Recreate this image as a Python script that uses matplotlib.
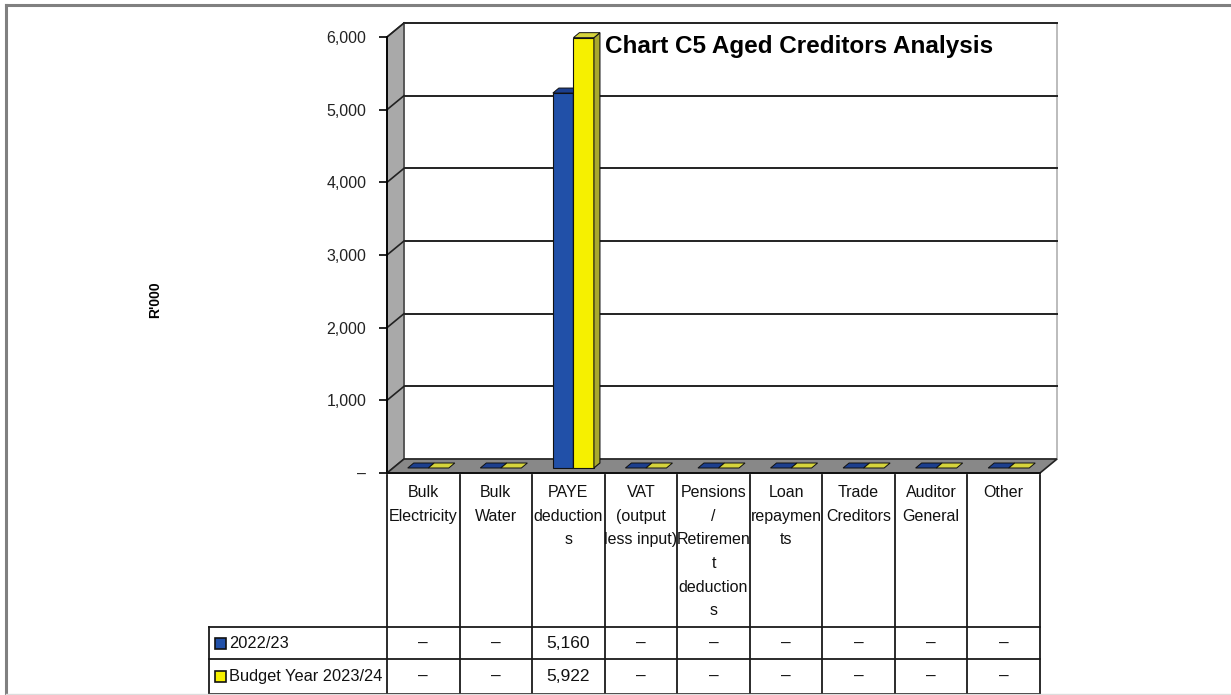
import numpy as np
import matplotlib.pyplot as plt
from matplotlib.patches import Polygon, Rectangle
from matplotlib.lines import Line2D

# data
categories = ['Bulk\nElectricity', 'Bulk\nWater', 'PAYE\ndeduction\ns', 'VAT\n(output\nless input)',
              'Pensions\n/\nRetiremen\nt\ndeduction\ns', 'Loan\nrepaymen\nts', 'Trade\nCreditors',
              'Auditor\nGeneral', 'Other']
series_names = ['2022/23', 'Budget Year 2023/24']
prev_year = [0, 0, 5160, 0, 0, 0, 0, 0, 0]
budget_year = [0, 0, 5922, 0, 0, 0, 0, 0, 0]
yticks = [0, 1000, 2000, 3000, 4000, 5000, 6000]

W, H = 1231, 695
plt.rcParams['font.family'] = ['Liberation Sans', 'DejaVu Sans']

fig = plt.figure(figsize=(W / 100, H / 100), dpi=100)

# outer frame
fig.add_artist(Line2D([6 / W, 6 / W], [0, 1 - 5 / H], color='#808080', lw=2.2))
fig.add_artist(Line2D([6 / W, 1], [1 - 5 / H, 1 - 5 / H], color='#808080', lw=2.2))
fig.add_artist(Line2D([6 / W, 1], [1 / H, 1 / H], color='#dddddd', lw=1))

# front plane of the 3D plot
x_l, x_r, y_0, y_top = 387, 1040, 473, 37
ax = fig.add_axes([x_l / W, 1 - y_0 / H, (x_r - x_l) / W, (y_0 - y_top) / H])
n = len(categories)
ax.set_xlim(-0.5, n - 0.5)
ax.set_ylim(0, 6000)
ux = n / (x_r - x_l)          # data units per pixel
uy = 6000 / (y_0 - y_top)
DX, DY = 17 * ux, 14 * uy      # depth of the chart box

ax.set_facecolor('none')
for s in ['top', 'right']:
    ax.spines[s].set_visible(False)
ax.spines['left'].set_linewidth(1.3)
ax.spines['bottom'].set_visible(False)
ax.set_xticks([])
ax.set_yticks(yticks)
ax.set_yticklabels(['–' if v == 0 else f'{v:,}' for v in yticks])
ax.tick_params(axis='y', length=6, width=1.2, pad=9, labelsize=11.5, labelcolor='#222222')

# back wall, left wall and floor
x0, x1 = -0.5, n - 0.5
ax.add_patch(Polygon([(x0 + DX, DY), (x1 + DX, DY), (x1 + DX, 6000 + DY), (x0 + DX, 6000 + DY)],
                     closed=True, facecolor='white', edgecolor='#b0b0b0', lw=1.2, clip_on=False, zorder=1))
ax.add_patch(Polygon([(x0, 0), (x0 + DX, DY), (x0 + DX, 6000 + DY), (x0, 6000)],
                     closed=True, facecolor='#a9a9a9', edgecolor='#333333', lw=1, clip_on=False, zorder=2))
for v in yticks[1:]:
    ax.plot([x0 + DX, x1 + DX], [v + DY, v + DY], color='#222222', lw=1.4, clip_on=False, zorder=1.5)
    ax.plot([x0, x0 + DX], [v, v + DY], color='#222222', lw=1.2, clip_on=False, zorder=2.5)
ax.add_patch(Polygon([(x0, 0), (x1, 0), (x1 + DX, DY), (x0 + DX, DY)],
                     closed=True, facecolor='#888888', edgecolor='#222222', lw=1.2, clip_on=False, zorder=3))

# bars with side and top faces
bw = 0.283
fx, fy = 5 * ux, 5 * uy       # bar front offset into the box
bx, by = 6 * ux, 5 * uy       # bar depth
colors = [('#2150a8', '#17347a', '#1c3f8e'), ('#f6f000', '#a9a92e', '#d6d43c')]
xs = np.arange(n)
for k, vals in enumerate([prev_year, budget_year]):
    front, side, top = colors[k]
    for i, v in enumerate(vals):
        a = xs[i] - bw + k * bw + fx
        b = a + bw
        if v > 0:
            ax.add_patch(Rectangle((a, fy), bw, v, facecolor=front, edgecolor='#111111', lw=0.8,
                                   clip_on=False, zorder=4 + k))
            ax.add_patch(Polygon([(b, fy), (b + bx, fy + by), (b + bx, v + fy + by), (b, v + fy)],
                                 closed=True, facecolor=side, edgecolor='#111111', lw=0.8,
                                 clip_on=False, zorder=4 + k))
        ax.add_patch(Polygon([(a, v + fy), (b, v + fy), (b + bx, v + fy + by), (a + bx, v + fy + by)],
                             closed=True, facecolor=top, edgecolor='#111111', lw=0.7,
                             clip_on=False, zorder=4 + k))
ax.plot([x0, x1], [0, 0], color='#111111', lw=1.4, clip_on=False, zorder=3.5)

# data table below the chart
t_l, t_b = 209, 694
tab = fig.add_axes([t_l / W, 1 - t_b / H, (x_r - t_l) / W, (t_b - y_0) / H])
tab.set_xlim(x0 - (x_l - t_l) * ux, x1)
tab.set_ylim(t_b - y_0, 0)
tab.axis('off')
rows = [0, 154, 186, 221]
lc = '#1a1a1a'
for i in range(n + 1):
    tab.plot([x0 + i, x0 + i], [rows[0] + 2, rows[3]], color=lc, lw=1.3, clip_on=False)
tab.plot([tab.get_xlim()[0]] * 2, [rows[1], rows[3]], color=lc, lw=1.3, clip_on=False)
for r in rows[1:]:
    tab.plot([tab.get_xlim()[0], x1], [r, r], color=lc, lw=1.3, clip_on=False)

for i, c in enumerate(categories):
    tab.text(xs[i], 12, c, ha='center', va='top', fontsize=11.5, linespacing=1.72, color='#111111')
for k, vals in enumerate([prev_year, budget_year]):
    yc = (rows[k + 1] + rows[k + 2]) / 2
    for i, v in enumerate(vals):
        tab.text(xs[i], yc, '–' if v == 0 else f'{v:,}', ha='center', va='center',
                 fontsize=12.5, color='#111111')
    kx = tab.get_xlim()[0] + 6 * ux
    tab.add_patch(Rectangle((kx, yc - 5.5), 11 * ux, 11, facecolor=colors[k][0], edgecolor='#111111',
                            lw=1.2, clip_on=False))
    tab.text(kx + 14 * ux, yc, series_names[k], ha='left', va='center', fontsize=11.8, color='#111111')

# titles
fig.text(155 / W, 1 - 300 / H, "R'000", rotation=90, ha='center', va='center',
         fontsize=10, fontweight='bold')
fig.text(605 / W, 1 - 46 / H, 'Chart C5 Aged Creditors Analysis', ha='left', va='center',
         fontsize=17.5, fontweight='bold')

fig.savefig('out.png', dpi=100)
